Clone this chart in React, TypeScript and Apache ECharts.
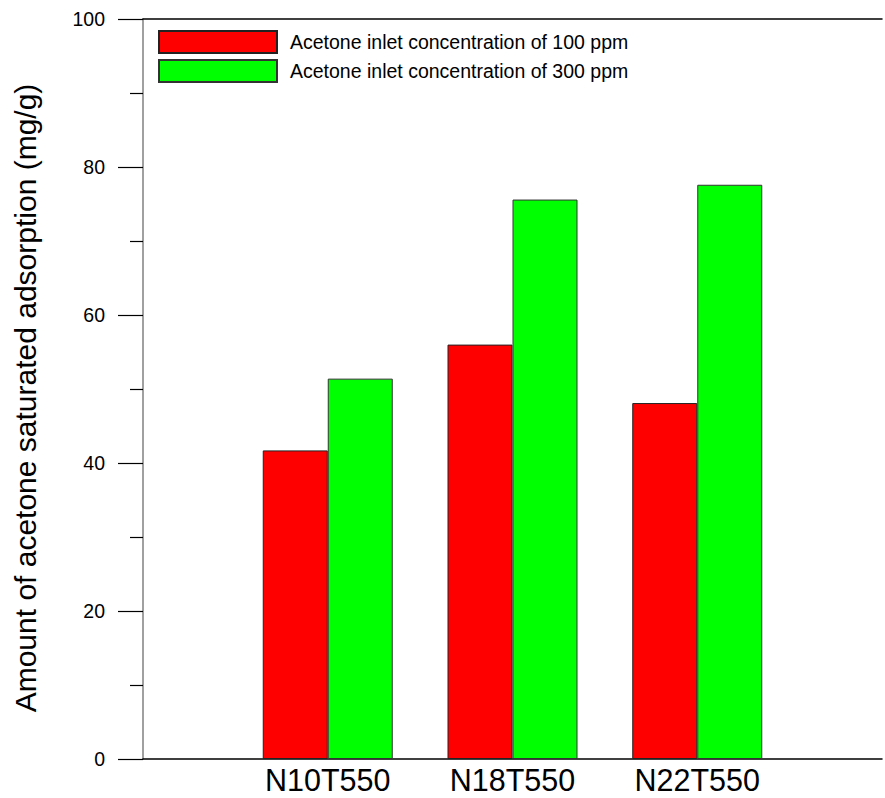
import React, { useEffect, useRef } from "react";
import * as echarts from "echarts";

const categories = ["N10T550", "N18T550", "N22T550"];
const series100 = [41.7, 56.0, 48.1];
const series300 = [51.4, 75.6, 77.6];
const seriesNames = [
  "Acetone inlet concentration of 100 ppm",
  "Acetone inlet concentration of 300 ppm",
];
const yTicks = [0, 20, 40, 60, 80, 100];
const yTitle = "Amount of acetone saturated adsorption (mg/g)";

export default function App() {
  const ref = useRef<HTMLDivElement>(null);
  useEffect(() => {
    if (!ref.current) return;
    const chart = echarts.init(ref.current, null, { renderer: "svg" });
    const cats = ["", ...categories, ""];
    const pad = (arr: number[]) => [null, ...arr, null];
    const font = "Arial, 'Liberation Sans', Helvetica, sans-serif";
    chart.setOption({
      animation: false,
      backgroundColor: "#ffffff",
      textStyle: { fontFamily: font },
      grid: { left: 143, right: 0, top: 19, bottom: 39, containLabel: false },
      legend: {
        orient: "vertical",
        left: 158,
        top: 30,
        padding: 0,
        itemWidth: 118,
        itemHeight: 22,
        itemGap: 5,
        icon: "rect",
        textStyle: {
          fontSize: 19.5,
          lineHeight: 22,
          color: "#000",
          fontFamily: font,
          padding: [0, 0, 0, 8],
        },
        data: seriesNames,
      },
      xAxis: [
        {
          type: "category",
          data: cats,
          boundaryGap: false,
          axisLine: { show: true, lineStyle: { color: "#000", width: 1.5 } },
          axisTick: { show: false },
          axisLabel: { interval: 0, fontSize: 30.5, color: "#000", margin: 5, fontFamily: font },
          splitLine: { show: false },
        },
        {
          type: "category",
          position: "top",
          data: cats,
          boundaryGap: false,
          axisLine: { show: true, lineStyle: { color: "#000", width: 1.5 } },
          axisTick: { show: false },
          axisLabel: { show: false },
          splitLine: { show: false },
        },
      ],
      yAxis: {
        type: "value",
        min: yTicks[0],
        max: yTicks[yTicks.length - 1],
        interval: 20,
        axisLine: { show: true, lineStyle: { color: "#808080", width: 1.5 } },
        axisTick: { show: true, inside: false, length: 25, lineStyle: { color: "#000", width: 1.2 } },
        minorTick: { show: true, splitNumber: 2, length: 13, lineStyle: { color: "#000", width: 1.2 } },
        axisLabel: { fontSize: 19.5, color: "#000", margin: 38, fontFamily: font },
        splitLine: { show: false },
      },
      graphic: [
        {
          type: "text",
          x: 25,
          y: 398,
          rotation: Math.PI / 2,
          style: {
            text: yTitle,
            fontSize: 30,
            fontFamily: font,
            fill: "#000",
            align: "center",
            verticalAlign: "middle",
          },
        },
      ],
      series: [
        {
          name: seriesNames[0],
          type: "bar",
          data: pad(series100),
          barWidth: 65,
          barGap: "0%",
          itemStyle: { color: "#ff0000", borderColor: "#222", borderWidth: 1 },
        },
        {
          name: seriesNames[1],
          type: "bar",
          data: pad(series300),
          barWidth: 65,
          barGap: "0%",
          itemStyle: { color: "#00ff00", borderColor: "#333", borderWidth: 1 },
        },
      ],
    });
    return () => chart.dispose();
  }, []);
  return (
    <div
      ref={ref}
      style={{ position: "fixed", left: 0, top: 0, width: 885, height: 798, background: "#fff" }}
    />
  );
}
